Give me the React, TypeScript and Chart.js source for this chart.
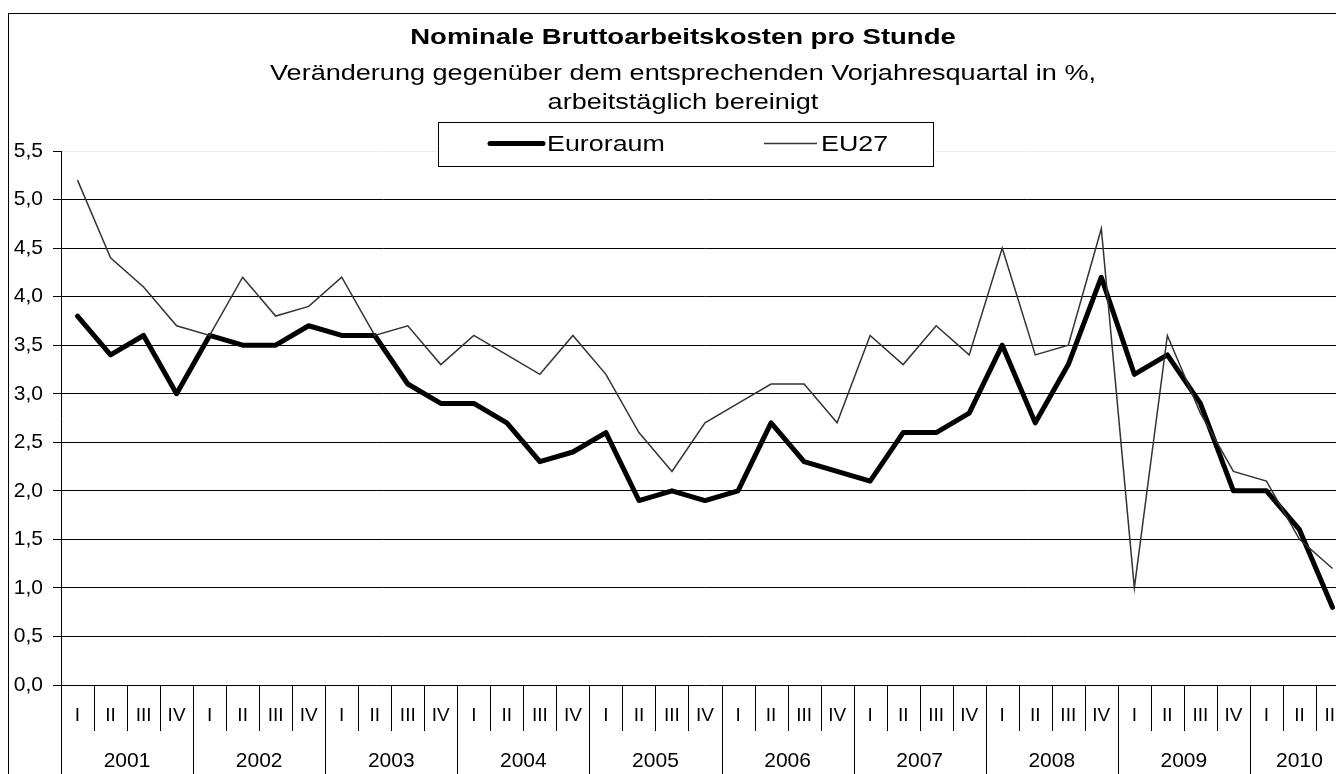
import React, { useEffect, useRef } from "react";
import { Chart, registerables } from "chart.js";

Chart.register(...registerables);

const quarterLabels = [
  "I", "II", "III", "IV", "I", "II", "III", "IV", "I", "II", "III", "IV",
  "I", "II", "III", "IV", "I", "II", "III", "IV", "I", "II", "III", "IV",
  "I", "II", "III", "IV", "I", "II", "III", "IV", "I", "II", "III", "IV",
  "I", "II", "III",
];
const yearLabels = ["2001", "2002", "2003", "2004", "2005", "2006", "2007", "2008", "2009", "2010"];

const euroraum = [
  3.8, 3.4, 3.6, 3.0, 3.6, 3.5, 3.5, 3.7, 3.6, 3.6, 3.1, 2.9,
  2.9, 2.7, 2.3, 2.4, 2.6, 1.9, 2.0, 1.9, 2.0, 2.7, 2.3, 2.2,
  2.1, 2.6, 2.6, 2.8, 3.5, 2.7, 3.3, 4.2, 3.2, 3.4, 2.9, 2.0,
  2.0, 1.6, 0.8,
];
const eu27 = [
  5.2, 4.4, 4.1, 3.7, 3.6, 4.2, 3.8, 3.9, 4.2, 3.6, 3.7, 3.3,
  3.6, 3.4, 3.2, 3.6, 3.2, 2.6, 2.2, 2.7, 2.9, 3.1, 3.1, 2.7,
  3.6, 3.3, 3.7, 3.4, 4.5, 3.4, 3.5, 4.7, 1.0, 3.6, 2.8, 2.2,
  2.1, 1.5, 1.2,
];

const titleText = "Nominale Bruttoarbeitskosten pro Stunde";
const subtitleLines = [
  "Veränderung gegenüber dem entsprechenden Vorjahresquartal in %,",
  "arbeitstäglich bereinigt",
];
const seriesNames = ["Euroraum", "EU27"];

const FONT = "'Liberation Sans', Arial, sans-serif";
const W = 1400;
const H = 800;

function stretchedText(
  ctx: CanvasRenderingContext2D,
  text: string,
  x: number,
  y: number,
  sx: number,
  align: CanvasTextAlign
) {
  ctx.save();
  ctx.translate(x, y);
  ctx.scale(sx, 1);
  ctx.textAlign = align;
  ctx.fillText(text, 0, 0);
  ctx.restore();
}

export default function App() {
  const ref = useRef<HTMLCanvasElement>(null);

  useEffect(() => {
    const canvas = ref.current;
    if (!canvas) return;

    const decor = {
      id: "decor",
      afterDraw(chart: any) {
        const ctx = chart.ctx as CanvasRenderingContext2D;
        const xs = chart.scales.x;
        const area = chart.chartArea;
        ctx.save();

        // outer frame
        ctx.strokeStyle = "#000";
        ctx.lineWidth = 1;
        ctx.strokeRect(8.5, 13.5, 1380, 900);

        // titles
        ctx.fillStyle = "#000";
        ctx.textBaseline = "alphabetic";
        const cx = 683;
        ctx.font = `bold 22px ${FONT}`;
        stretchedText(ctx, titleText, cx, 44, 1.25, "center");
        ctx.font = `22px ${FONT}`;
        stretchedText(ctx, subtitleLines[0], cx, 80, 1.23, "center");
        stretchedText(ctx, subtitleLines[1], cx, 109, 1.23, "center");

        // legend box
        ctx.fillStyle = "#fff";
        ctx.fillRect(438, 122, 495, 44);
        ctx.strokeStyle = "#000";
        ctx.lineWidth = 1;
        ctx.strokeRect(438.5, 122.5, 495, 44);
        // legend items
        ctx.lineCap = "round";
        ctx.strokeStyle = "#000";
        ctx.lineWidth = 5;
        ctx.beginPath();
        ctx.moveTo(490, 143.5);
        ctx.lineTo(543, 143.5);
        ctx.stroke();
        ctx.lineCap = "butt";
        ctx.strokeStyle = "#333";
        ctx.lineWidth = 1.5;
        ctx.beginPath();
        ctx.moveTo(764, 143.5);
        ctx.lineTo(817, 143.5);
        ctx.stroke();
        ctx.fillStyle = "#000";
        ctx.font = `22px ${FONT}`;
        stretchedText(ctx, seriesNames[0], 547, 151, 1.22, "left");
        stretchedText(ctx, seriesNames[1], 821, 151, 1.22, "left");

        // category axis band
        const n = quarterLabels.length;
        const step = xs.getPixelForValue(1) - xs.getPixelForValue(0);
        const top = area.bottom;
        ctx.strokeStyle = "#000";
        ctx.lineWidth = 1;
        for (let i = 0; i <= n; i++) {
          const bx = Math.round(xs.getPixelForValue(i) - step / 2) + 0.5;
          const isYear = i % 4 === 0;
          ctx.beginPath();
          ctx.moveTo(bx, top);
          ctx.lineTo(bx, isYear ? H : top + 46);
          ctx.stroke();
        }
        ctx.textAlign = "center";
        ctx.font = `19px ${FONT}`;
        for (let i = 0; i < n; i++) {
          ctx.fillText(quarterLabels[i], xs.getPixelForValue(i), 721);
        }
        ctx.font = `21px ${FONT}`;
        yearLabels.forEach((yl, k) => {
          const first = k * 4;
          const last = Math.min(first + 3, n - 1);
          const xc = (xs.getPixelForValue(first) + xs.getPixelForValue(last)) / 2;
          ctx.fillText(yl, xc, 767);
        });
        ctx.restore();
      },
    };

    const chart = new Chart(canvas, {
      type: "line",
      data: {
        labels: quarterLabels,
        datasets: [
          {
            label: seriesNames[0],
            data: euroraum,
            borderColor: "#000",
            borderWidth: 5,
            pointRadius: 0,
            tension: 0,
            borderJoinStyle: "round",
            borderCapStyle: "round",
            order: 1,
          },
          {
            label: seriesNames[1],
            data: eu27,
            borderColor: "#333",
            borderWidth: 1.5,
            pointRadius: 0,
            tension: 0,
            order: 0,
          },
        ],
      },
      options: {
        responsive: false,
        maintainAspectRatio: false,
        devicePixelRatio: 1,
        animation: false,
        events: [],
        layout: { padding: { left: 0, top: 151, right: 51, bottom: 0 } },
        plugins: {
          legend: { display: false },
          tooltip: { enabled: false },
          title: { display: false },
        },
        scales: {
          x: {
            type: "category",
            offset: true,
            grid: { display: false },
            border: { display: false },
            ticks: { display: false },
            afterFit: (s: any) => {
              s.height = H - 685;
            },
          },
          y: {
            min: 0,
            max: 5.5,
            afterFit: (s: any) => {
              s.width = 61;
            },
            border: { display: true, color: "#000", width: 1 },
            grid: {
              color: (c: any) => (c.tick && Math.abs(c.tick.value - 5.5) < 1e-6 ? "#ececec" : "#000"),
              tickColor: "#000",
              tickLength: 8,
              lineWidth: 1,
            },
            ticks: {
              stepSize: 0.5,
              color: "#000",
              padding: 10,
              font: { family: FONT, size: 21 },
              callback: (v: any) => Number(v).toFixed(1).replace(".", ","),
            },
          },
        },
      },
      plugins: [decor],
    });

    return () => chart.destroy();
  }, []);

  return (
    <div style={{ position: "fixed", left: 0, top: 0, width: 1336, height: 774, overflow: "hidden", background: "#fff" }}>
      <canvas ref={ref} width={W} height={H} style={{ position: "absolute", left: 0, top: 0, width: W, height: H }} />
    </div>
  );
}
